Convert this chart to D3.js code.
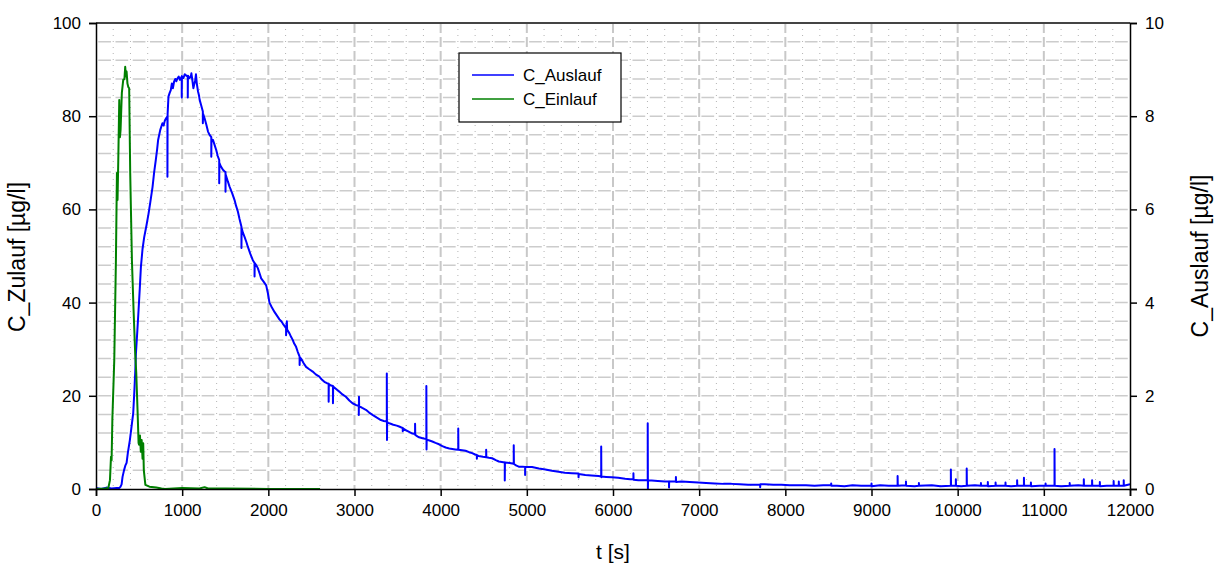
<!DOCTYPE html>
<html>
<head>
<meta charset="utf-8">
<script src="https://cdn.jsdelivr.net/npm/d3@7"></script>
<style>
  body { margin: 0; background: #fff; }
  text { font-family: "Liberation Sans", Arial, sans-serif; fill: #000; }
</style>
</head>
<body>
<svg id="chart" width="1217" height="565"></svg>
<script>
// time axis [s]
var xTicks = [0, 1000, 2000, 3000, 4000, 5000, 6000, 7000, 8000, 9000, 10000, 11000, 12000];
var leftTicks = [0, 20, 40, 60, 80, 100];
var rightTicks = [0, 2, 4, 6, 8, 10];

// C_Einlauf (left axis, µg/l) as [t, c]
var einlauf = [[0, 0], [100, 0.1], [143, 0.2], [162, 1.9], [174, 6.9], [181, 6.2], [190, 15], [212, 27.7], [231, 49], [243, 67.8],
  [250, 62], [258, 70], [270, 83.5], [278, 75.5], [285, 77], [300, 85], [316, 87.8], [330, 88], [339, 90.6], [347, 88.5], [355, 89.6],
  [365, 87], [374, 86.3], [385, 86], [397, 67.8], [417, 49], [436, 38.4], [455, 29], [467, 25], [482, 17], [494, 9.9], [500, 9.5],
  [510, 11.5], [520, 8], [530, 10.5], [540, 6.5], [548, 9.8], [555, 4], [573, 0.9], [620, 0.5], [700, 0.3], [760, 0.1], [800, 0],
  [1000, 0.2], [1200, 0.1], [1260, 0.4], [1300, 0.1], [1500, 0.1], [2000, 0], [2600, 0]];

// C_Auslauf (right axis, µg/l) as [t, c]; spikes share one t
var auslauf = [[0, 0.02], [60, 0.0], [120, 0.03], [180, 0.01], [240, 0.02], [270, 0.02], [285, 0.05], [297, 0.1], [308, 0.26],
  [325, 0.4], [340, 0.5], [355, 0.56], [370, 0.78], [393, 1.05], [410, 1.3], [432, 1.63], [444, 2.06], [455, 2.5], [463, 2.9],
  [480, 3.4], [494, 3.84], [508, 4.3], [521, 4.76], [540, 5.15], [559, 5.4], [585, 5.65], [609, 5.9], [630, 6.15], [656, 6.48],
  [675, 6.8], [694, 7.06], [710, 7.3], [721, 7.49], [745, 7.7], [771, 7.85], [785, 7.8], [798, 7.9], [812, 7.95], [829, 8.0],
  [829, 6.7], [831, 8.05], [841, 8.42], [855, 8.5], [868, 8.56], [880, 8.7], [892, 8.6], [906, 8.74], [920, 8.8], [933, 8.75],
  [945, 8.81], [960, 8.85], [975, 8.78], [995, 8.85], [995, 8.4], [997, 8.86], [1015, 8.82], [1030, 8.9], [1041, 8.88], [1065, 8.85],
  [1065, 8.4], [1067, 8.87], [1085, 8.82], [1100, 8.85], [1107, 8.92], [1120, 8.75], [1130, 8.6], [1138, 8.67], [1150, 8.75],
  [1160, 8.9], [1170, 8.7], [1184, 8.53], [1195, 8.45], [1203, 8.35], [1218, 8.25], [1240, 8.1], [1240, 7.85], [1243, 8.05],
  [1261, 7.95], [1280, 7.82], [1300, 7.67], [1318, 7.6], [1338, 7.55], [1338, 7.13], [1340, 7.5], [1358, 7.49], [1377, 7.38],
  [1396, 7.27], [1412, 7.15], [1430, 7.06], [1430, 6.56], [1432, 7.0], [1450, 6.92], [1473, 6.85], [1490, 6.82], [1503, 6.8],
  [1503, 6.38], [1505, 6.75], [1530, 6.6], [1550, 6.49], [1580, 6.35], [1608, 6.2], [1625, 6.08], [1647, 5.95], [1665, 5.8],
  [1688, 5.63], [1688, 5.17], [1690, 5.6], [1705, 5.5], [1724, 5.41], [1745, 5.3], [1762, 5.2], [1790, 5.05], [1820, 4.91],
  [1840, 4.85], [1840, 4.56], [1842, 4.85], [1860, 4.8], [1878, 4.74], [1900, 4.62], [1917, 4.52], [1945, 4.45], [1975, 4.37],
  [1995, 4.2], [2013, 4.0], [2040, 3.9], [2071, 3.8], [2100, 3.72], [2129, 3.64], [2150, 3.6], [2168, 3.55], [2206, 3.45],
  [2206, 3.3], [2210, 3.5], [2215, 3.6], [2218, 3.42], [2245, 3.34], [2265, 3.26], [2283, 3.2], [2300, 3.12], [2322, 3.05],
  [2340, 2.95], [2363, 2.84], [2363, 2.66], [2366, 2.82], [2380, 2.8], [2410, 2.7], [2438, 2.62], [2475, 2.57], [2515, 2.52],
  [2550, 2.46], [2592, 2.41], [2620, 2.35], [2650, 2.3], [2680, 2.27], [2700, 2.26], [2700, 1.87], [2702, 2.25], [2728, 2.22],
  [2750, 2.21], [2750, 1.84], [2752, 2.2], [2790, 2.14], [2823, 2.09], [2860, 2.03], [2900, 1.98], [2940, 1.9], [2977, 1.84],
  [3020, 1.8], [3050, 1.78], [3050, 1.59], [3052, 1.98], [3054, 1.78], [3090, 1.74], [3132, 1.7], [3170, 1.64], [3209, 1.59],
  [3260, 1.53], [3306, 1.48], [3340, 1.46], [3375, 1.45], [3375, 2.48], [3377, 1.05], [3379, 1.44], [3390, 1.42], [3420, 1.4],
  [3450, 1.38], [3490, 1.36], [3518, 1.34], [3545, 1.32], [3560, 1.31], [3560, 1.24], [3562, 1.3], [3600, 1.26], [3640, 1.22],
  [3672, 1.19], [3703, 1.18], [3703, 1.4], [3705, 1.16], [3730, 1.13], [3749, 1.11], [3790, 1.09], [3834, 1.07], [3834, 2.21],
  [3836, 0.85], [3838, 1.06], [3870, 1.04], [3903, 1.02], [3940, 0.99], [3981, 0.96], [4020, 0.92], [4058, 0.89], [4100, 0.87],
  [4135, 0.86], [4170, 0.85], [4204, 0.84], [4204, 1.3], [4206, 0.84], [4250, 0.83], [4289, 0.82], [4330, 0.79], [4366, 0.77],
  [4400, 0.74], [4420, 0.73], [4420, 0.65], [4422, 0.72], [4443, 0.71], [4490, 0.69], [4528, 0.68], [4528, 0.84], [4530, 0.68],
  [4560, 0.67], [4597, 0.66], [4640, 0.62], [4675, 0.59], [4710, 0.58], [4744, 0.57], [4744, 0.18], [4746, 0.57], [4800, 0.56],
  [4848, 0.54], [4848, 0.94], [4850, 0.54], [4880, 0.5], [4906, 0.48], [4950, 0.48], [4980, 0.47], [4980, 0.3], [4982, 0.47],
  [5020, 0.47], [5060, 0.47], [5140, 0.44], [5215, 0.42], [5290, 0.39], [5369, 0.37], [5440, 0.35], [5523, 0.34], [5600, 0.33],
  [5600, 0.25], [5602, 0.32], [5678, 0.3], [5750, 0.29], [5832, 0.28], [5863, 0.27], [5863, 0.91], [5865, 0.25], [5867, 0.27],
  [5920, 0.26], [5986, 0.25], [6060, 0.24], [6141, 0.22], [6200, 0.21], [6237, 0.21], [6237, 0.34], [6239, 0.2], [6295, 0.19],
  [6350, 0.19], [6403, 0.19], [6403, 1.41], [6405, 0.0], [6407, 0.18], [6449, 0.18], [6520, 0.17], [6604, 0.16], [6650, 0.16],
  [6650, 0.03], [6652, 0.16], [6730, 0.16], [6730, 0.26], [6732, 0.15], [6796, 0.16], [6890, 0.15], [6989, 0.14], [7080, 0.13],
  [7182, 0.12], [7280, 0.11], [7375, 0.11], [7470, 0.1], [7568, 0.09], [7650, 0.09], [7708, 0.09], [7708, 0.04], [7710, 0.1],
  [7761, 0.1], [7860, 0.09], [7954, 0.09], [8050, 0.08], [8146, 0.08], [8240, 0.08], [8339, 0.07], [8440, 0.08], [8532, 0.08],
  [8532, 0.12], [8534, 0.07], [8600, 0.07], [8686, 0.06], [8780, 0.08], [8880, 0.07], [9000, 0.07], [9000, 0.12], [9002, 0.06],
  [9100, 0.08], [9200, 0.07], [9303, 0.07], [9303, 0.28], [9305, 0.07], [9400, 0.08], [9400, 0.16], [9402, 0.07], [9500, 0.06],
  [9550, 0.07], [9550, 0.13], [9552, 0.07], [9700, 0.08], [9800, 0.06], [9921, 0.07], [9921, 0.42], [9923, 0.07], [9979, 0.07],
  [9979, 0.21], [9981, 0.07], [10040, 0.06], [10105, 0.07], [10105, 0.44], [10107, 0.07], [10200, 0.08], [10270, 0.07],
  [10270, 0.13], [10272, 0.07], [10350, 0.07], [10350, 0.15], [10352, 0.06], [10440, 0.07], [10440, 0.14], [10442, 0.07],
  [10555, 0.07], [10555, 0.14], [10557, 0.07], [10620, 0.06], [10690, 0.07], [10690, 0.19], [10692, 0.07], [10769, 0.07],
  [10769, 0.24], [10771, 0.07], [10850, 0.07], [10850, 0.14], [10852, 0.06], [10950, 0.07], [11020, 0.07], [11020, 0.12],
  [11022, 0.07], [11124, 0.07], [11124, 0.86], [11126, 0.07], [11200, 0.06], [11300, 0.07], [11300, 0.13], [11302, 0.07],
  [11400, 0.08], [11464, 0.07], [11464, 0.21], [11466, 0.07], [11560, 0.07], [11560, 0.19], [11562, 0.07], [11650, 0.07],
  [11650, 0.15], [11652, 0.06], [11730, 0.07], [11810, 0.07], [11810, 0.17], [11812, 0.07], [11870, 0.07], [11870, 0.16],
  [11872, 0.07], [11927, 0.07], [11927, 0.19], [11929, 0.07], [12000, 0.1]];

var svg = d3.select("#chart");
var margin = { top: 23, right: 87, bottom: 76, left: 96 };
var width = +svg.attr("width") - margin.left - margin.right;
var height = +svg.attr("height") - margin.top - margin.bottom;

var x = d3.scaleLinear().domain([0, 12000]).range([0, width]);
var yLeft = d3.scaleLinear().domain([0, 100]).range([height, 0]);
var yRight = d3.scaleLinear().domain([0, 10]).range([height, 0]);

var g = svg.append("g").attr("transform", "translate(" + margin.left + "," + margin.top + ")");

// grid: minor verticals every 200 s (dotted), major every 1000 s (dashed)
var grid = g.append("g").attr("class", "grid");
grid.selectAll(".vminor").data(d3.range(200, 12000, 200).filter(v => v % 1000 !== 0))
  .enter().append("line")
  .attr("x1", d => x(d)).attr("x2", d => x(d))
  .attr("y1", 0).attr("y2", height)
  .attr("stroke", "#b4b4b4").attr("stroke-width", 1)
  .attr("stroke-dasharray", "1,5");

var step = x(200) - x(0);
grid.selectAll(".h").data(d3.range(4, 100, 4))
  .enter().append("line")
  .attr("x1", 0).attr("x2", width)
  .attr("y1", d => yLeft(d)).attr("y2", d => yLeft(d))
  .attr("stroke", "#cccccc").attr("stroke-width", 1.5)
  .attr("stroke-dasharray", (step - 4.5) + ",4.5")
  .attr("stroke-dashoffset", -2.25);

grid.selectAll(".vmajor").data(xTicks.slice(1, -1))
  .enter().append("line")
  .attr("x1", d => x(d)).attr("x2", d => x(d))
  .attr("y1", 0).attr("y2", height)
  .attr("stroke", "#c8c8c8").attr("stroke-width", 2)
  .attr("stroke-dasharray", "10,4");

// series
var lineEin = d3.line().x(d => x(d[0])).y(d => yLeft(d[1]));
var lineAus = d3.line().x(d => x(d[0])).y(d => yRight(d[1]));

g.append("path").datum(auslauf)
  .attr("d", lineAus).attr("fill", "none")
  .attr("stroke", "#0000ff").attr("stroke-width", 2).attr("stroke-linejoin", "round");

g.append("path").datum(einlauf)
  .attr("d", lineEin).attr("fill", "none")
  .attr("stroke", "#008000").attr("stroke-width", 2).attr("stroke-linejoin", "round");

// frame: top border
g.append("line").attr("x1", 0).attr("x2", width).attr("y1", 0).attr("y2", 0)
  .attr("stroke", "#444").attr("stroke-width", 2);

// axes
function styleAxis(sel) {
  sel.select(".domain").attr("stroke", "#000").attr("stroke-width", 1.5);
  sel.selectAll(".tick line").attr("stroke", "#000").attr("stroke-width", 1.5);
  sel.selectAll(".tick text").style("font-size", "17px")
    .style("font-family", "'Liberation Sans', Arial, sans-serif");
}

g.append("g").attr("transform", "translate(0," + height + ")")
  .call(d3.axisBottom(x).tickValues(xTicks).tickFormat(d3.format("d")).tickSizeOuter(0).tickSize(7).tickPadding(8))
  .call(styleAxis);

g.append("g")
  .call(d3.axisLeft(yLeft).tickValues(leftTicks).tickSizeOuter(0).tickSize(7).tickPadding(8))
  .call(styleAxis);

g.append("g").attr("transform", "translate(" + width + ",0)")
  .call(d3.axisRight(yRight).tickValues(rightTicks).tickSizeOuter(0).tickSize(7).tickPadding(8))
  .call(styleAxis);

// axis titles
svg.append("text").attr("x", margin.left + width / 2).attr("y", 559)
  .attr("text-anchor", "middle").style("font-size", "21px").text("t [s]");

svg.append("text").attr("transform", "translate(25," + (margin.top + height / 2 + 1) + ") rotate(-90)")
  .attr("text-anchor", "middle").style("font-size", "23px").text("C_Zulauf [µg/l]");

svg.append("text").attr("transform", "translate(1208," + (margin.top + height / 2) + ") rotate(-90)")
  .attr("text-anchor", "middle").style("font-size", "23px").text("C_Auslauf [µg/l]");

// legend
var legend = svg.append("g").attr("transform", "translate(459,53)");
legend.append("rect").attr("width", 162).attr("height", 69)
  .attr("fill", "#fff").attr("stroke", "#000").attr("stroke-width", 1.2);
var legendItems = [["C_Auslauf", "#0000ff"], ["C_Einlauf", "#008000"]];
legendItems.forEach(function (item, i) {
  var yy = 22 + i * 24;
  legend.append("line").attr("x1", 13).attr("x2", 55).attr("y1", yy).attr("y2", yy)
    .attr("stroke", item[1]).attr("stroke-width", 1.5);
  legend.append("text").attr("x", 64).attr("y", yy + 6).style("font-size", "17px").text(item[0]);
});
</script>
</body>
</html>
